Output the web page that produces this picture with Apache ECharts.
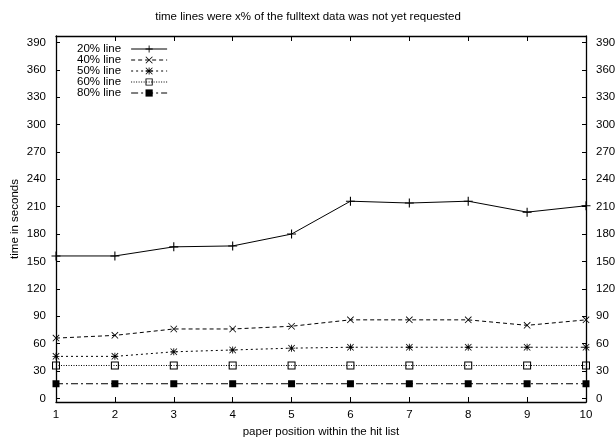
<!DOCTYPE html>
<html>
<head>
<meta charset="utf-8">
<script src="https://cdn.jsdelivr.net/npm/echarts@6/dist/echarts.min.js"></script>
<style>
  html, body { margin: 0; padding: 0; background: #fff; }
  #chart { width: 616px; height: 440px; }
</style>
</head>
<body>
<div id="chart"></div>
<script>
// Paper positions in the hit list (x axis)
const positions = [1, 2, 3, 4, 5, 6, 7, 8, 9, 10];
// Seconds until x% of the fulltext data was still unrequested
const line20 = [156, 156, 166, 167, 180, 216, 214, 216, 204, 211];
const line40 = [66, 69, 76, 76, 79, 86, 86, 86, 80, 86];
const line50 = [46, 46, 51, 53, 55, 56, 56, 56, 56, 56];
const line60 = [36, 36, 36, 36, 36, 36, 36, 36, 36, 36];
const line80 = [16, 16, 16, 16, 16, 16, 16, 16, 16, 16];
const seriesNames = ['20% line', '40% line', '50% line', '60% line', '80% line'];
// Tick labels of both y axes
const yTicks = [0, 30, 60, 90, 120, 150, 180, 210, 240, 270, 300, 330, 360, 390];

const FONT = 'Liberation Sans, Arial, sans-serif';
const INK = '#000';

// Point markers drawn as filled paths
const plusPath = 'path://M0,4.4H10V5.6H0Z M4.4,0H5.6V10H4.4Z';
const crossPath = 'path://M0.8,0L10,9.2L9.2,10L0,0.8Z M9.2,0L10,0.8L0.8,10L0,9.2Z';
const starPath = 'path://M0.8,0L10,9.2L9.2,10L0,0.8Z M9.2,0L10,0.8L0.8,10L0,9.2Z M0,4.4H10V5.6H0Z M4.4,0H5.6V10H4.4Z';
const boxPath = 'path://M0,0H10V10H0Z M1.3,1.3V8.7H8.7V1.3Z';

const pairs = arr => positions.map((p, i) => [p, arr[i]]);

function lineSeries(name, data, symbol, size, dash) {
  return {
    name: name,
    type: 'line',
    data: pairs(data),
    symbol: symbol,
    symbolSize: size,
    showAllSymbol: true,
    clip: false,
    animation: false,
    lineStyle: { color: INK, width: 1, type: dash },
    itemStyle: { color: INK, borderWidth: 0 },
    emphasis: { disabled: true }
  };
}

const yAxisCommon = {
  type: 'value',
  min: -4,
  max: 397,
  splitLine: { show: false },
  axisLine: { show: true, lineStyle: { color: INK, width: 1.3 } },
  axisTick: { show: true, inside: true, length: 4, customValues: yTicks, lineStyle: { color: INK } },
  axisLabel: { customValues: yTicks, color: INK, fontFamily: FONT, fontSize: 11.5, margin: 10 }
};

const chart = echarts.init(document.getElementById('chart'), null, { renderer: 'canvas' });
chart.setOption({
  animation: false,
  backgroundColor: '#fff',
  title: {
    text: 'time lines were x% of the fulltext data was not yet requested',
    left: 'center',
    top: 6,
    textStyle: { color: INK, fontFamily: FONT, fontSize: 11.5, fontWeight: 'normal' }
  },
  grid: { left: 56, right: 30, top: 36, bottom: 38, containLabel: false, outerBoundsMode: 'none' },
  legend: {
    data: seriesNames,
    orient: 'vertical',
    left: 72,
    top: 38,
    align: 'right',
    itemWidth: 36,
    itemHeight: 9,
    itemGap: -1,
    selectedMode: false,
    lineStyle: { width: 1 },
    textStyle: { color: INK, fontFamily: FONT, fontSize: 11.5, padding: [0, 5, 0, 0] }
  },
  xAxis: [
    {
      type: 'value',
      min: 1,
      max: 10,
      interval: 1,
      position: 'bottom',
      name: 'paper position within the hit list',
      nameLocation: 'middle',
      nameGap: 23,
      nameTextStyle: { color: INK, fontFamily: FONT, fontSize: 11.5 },
      splitLine: { show: false },
      axisLine: { show: true, onZero: false, lineStyle: { color: INK, width: 1.3 } },
      axisTick: { show: true, inside: true, length: 5, lineStyle: { color: INK } },
      axisLabel: { color: INK, fontFamily: FONT, fontSize: 11.5, margin: 7 }
    },
    {
      type: 'value',
      min: 1,
      max: 10,
      interval: 1,
      position: 'top',
      splitLine: { show: false },
      axisLine: { show: true, onZero: false, lineStyle: { color: INK, width: 1.3 } },
      axisTick: { show: true, inside: true, length: 5, lineStyle: { color: INK } },
      axisLabel: { show: false }
    }
  ],
  yAxis: [
    Object.assign({}, yAxisCommon, {
      position: 'left',
      name: 'time in seconds',
      nameLocation: 'middle',
      nameGap: 35,
      nameMoveOverlap: false,
      nameRotate: 90,
      nameTextStyle: { color: INK, fontFamily: FONT, fontSize: 11.5 }
    }),
    Object.assign({}, yAxisCommon, { position: 'right' })
  ],
  series: [
    lineSeries(seriesNames[0], line20, plusPath, 9, 'solid'),
    lineSeries(seriesNames[1], line40, crossPath, 7, [4, 3]),
    lineSeries(seriesNames[2], line50, starPath, 7, [2, 3]),
    lineSeries(seriesNames[3], line60, boxPath, 8, [1, 1.5]),
    lineSeries(seriesNames[4], line80, 'rect', 7, [7, 3, 2, 3])
  ]
});
</script>
</body>
</html>
